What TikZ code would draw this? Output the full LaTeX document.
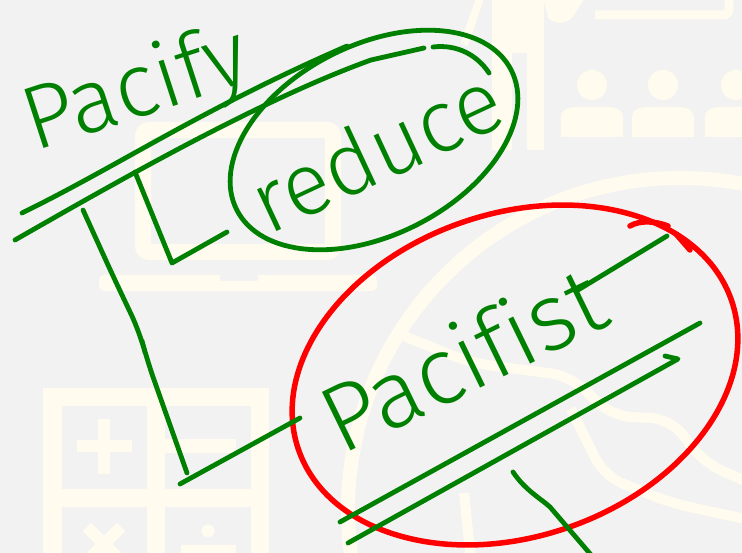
\documentclass[tikz,border=0pt]{standalone}
\usepackage{fontspec}
\newfontfamily\handfont{Fira Sans Light}[Ligatures=NoCommon]
\usetikzlibrary{positioning, shapes.geometric, calc}

\definecolor{boardgrey}{RGB}{242,242,242}
\definecolor{cream}{RGB}{255,251,238}
\definecolor{inkgreen}{RGB}{0,128,0}
\definecolor{inkred}{RGB}{255,0,0}

\begin{document}
\begin{tikzpicture}[
    x=1pt, y=-1pt,
    ink/.style={draw=inkgreen, line width=4.8pt, line cap=round, line join=round},
    redink/.style={draw=inkred, line width=5.5pt, line cap=round, line join=round},
    word/.style={text=inkgreen, font=\handfont\fontsize{#1}{#1}\selectfont, inner sep=0pt},
    ring/.style={ellipse, ink, inner sep=0pt},
    icon/.style={fill=cream},
    iconline/.style={draw=cream, line width=#1}
]

% Board
\fill[boardgrey] (0,0) rectangle (742,553);
\useasboundingbox (0,0) rectangle (742,553);

% Faded icons behind the ink
\begin{scope}
    \clip (0,0) rectangle (742,553);
    % laptop
    \draw[iconline=16pt, rounded corners=6pt] (143,130) rectangle (333,252);
    \fill[icon, rounded corners=5pt] (99,275) rectangle (377,291);
    \fill[boardgrey, rounded corners=2pt] (220,272) rectangle (258,281);
    % calculator
    \fill[icon] (43,388) rectangle (269,560);
    \fill[boardgrey] (62,406) rectangle (147,489);
    \fill[boardgrey] (165,406) rectangle (251,489);
    \fill[boardgrey] (62,507) rectangle (147,560);
    \fill[boardgrey] (165,507) rectangle (251,560);
    \fill[icon] (77,440) rectangle (132,452);
    \fill[icon] (98,419) rectangle (110,474);
    \fill[icon] (165,439) rectangle (236,453);
    \draw[iconline=12pt] (87,527) -- (121,561) (121,527) -- (87,561);
    \fill[icon] (208,531) circle (6.5);
    \fill[icon] (181,545) rectangle (236,560);
    % presenter
    \fill[icon] (492,-2) rectangle (544,150);
    \fill[boardgrey] (512,53) rectangle (527,151);
    \draw[iconline=8pt] (480,-2) -- (464,45);
    \fill[icon] (543,-2) -- (548,18) .. controls (555,25) and (568,25) .. (574,15) -- (585,-2) -- cycle;
    \draw[iconline=9pt, rounded corners=6pt] (595,15) -- (729,15) -- (729,-5);
    % audience
    \foreach \px in {592,663,736} {
        \fill[icon] (\px,85) circle (15);
        \fill[icon] (\px-31,137) -- (\px-31,118) .. controls (\px-31,105) and (\px-15,107) .. (\px,107)
            .. controls (\px+15,107) and (\px+31,105) .. (\px+31,118) -- (\px+31,137) -- cycle;
    }
    % ring with leaf
    \draw[iconline=14pt] (680,510) circle (332);
    \draw[iconline=10pt, rounded corners=20pt] (404,336) -- (471,363) -- (571,376) -- (611,416) -- (671,419) -- (704,463) -- (750,483);
    \draw[iconline=10pt, rounded corners=20pt] (571,409) -- (604,476) -- (671,503) -- (750,520);
    \draw[iconline=10pt] (464,493) -- (471,560);
\end{scope}

% Words
\node[word=90, rotate=18] (pacify) at (137,92) {Pacify};
\node[word=88, rotate=25] (reduce) at (376,150) {reduce};
\node[word=95, rotate=26] (pacifist) at (462,358) {Pacifist};

% Rings round the words
\node[ring, rotate=27, minimum width=308pt, minimum height=190pt] (reduce ring) at (374,140) {};
\node[ring, redink, rotate=19, minimum width=458pt, minimum height=323pt] (pacifist ring) at (515,375) {};
\draw[ink] (433,47) .. controls (458,44) and (478,56) .. (489,73);
\draw[redink] (630,226) .. controls (640,220) and (655,221) .. (668,226);
\draw[redink] (676,234) -- (690,250);

% Strike lines
\draw[ink] (22,213) .. controls (120,165) and (200,110) .. (347,46);
\draw[ink] (15,240) .. controls (120,180) and (260,100) .. (371,60) -- (424,48);
\draw[ink] (340,522) -- (700,323);
\draw[ink] (348,543) -- (678,359) -- (665,356);
\draw[ink] (578,290) -- (667,236);
\draw[ink] (513,472) .. controls (525,490) and (540,498) .. (550,507) -- (592,556);

% Brackets
\coordinate (short top) at (135,172);
\coordinate (short foot) at (172,263);
\coordinate (reduce tip) at (227,232);
\coordinate (long top) at (83,210);
\coordinate (long foot) at (187,473);
\coordinate (pacifist tip) at (300,418);
\draw[ink] (short top) -- (short foot) -- (reduce tip);
\draw[ink, rounded corners=20pt] (long top) -- (113,276) -- (140,333) -- (147,360) -- (long foot);
\draw[ink] (180,484) -- (pacifist tip);

\end{tikzpicture}
\end{document}
